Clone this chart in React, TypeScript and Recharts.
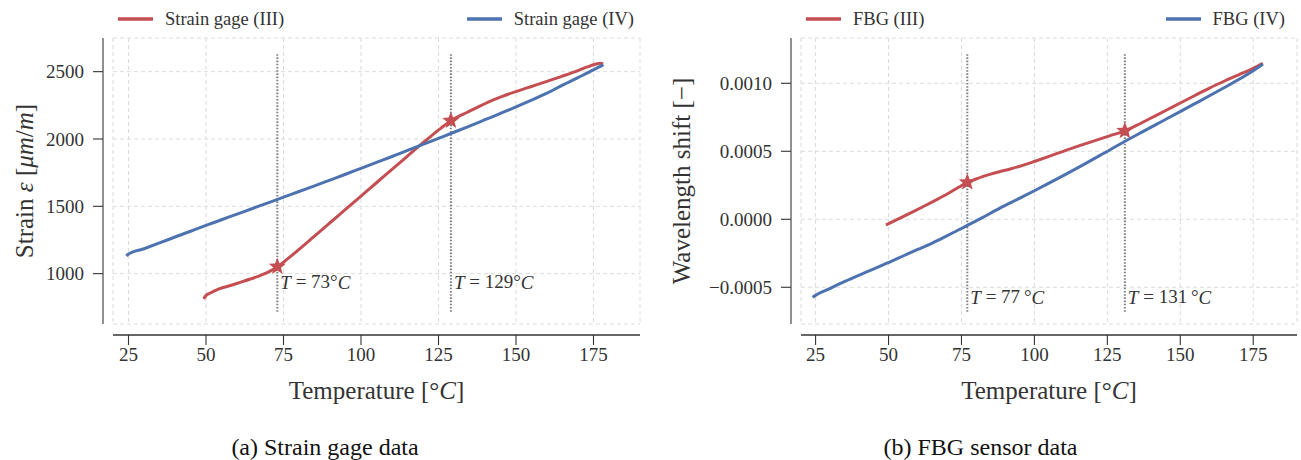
import React from 'react';
import {
  ComposedChart,
  Line,
  Scatter,
  XAxis,
  YAxis,
  CartesianGrid,
  ReferenceLine,
  ReferenceDot,
  Legend,
} from 'recharts';

const FONT = '"Liberation Serif", "Times New Roman", serif';
const RED = '#C44E52';
const BLUE = '#4C72B0';
const INK = '#333';

// shared temperature axis
const tempTicks = [25, 50, 75, 100, 125, 150, 175];
const tempDomain = [20, 190];

// (a) strain gage data
const sgIIITemp = [49.3, 49.8, 51.4, 54, 57.9, 61, 64.3, 67, 69.7, 73.1, 75, 77, 80, 85, 90, 95, 100, 105, 110, 115, 118.5, 122, 125.5, 129, 131.5, 134, 138, 142.7, 146, 150, 155, 160, 165, 170, 173, 175.5, 177.2, 178.1];
const sgIIIStrain = [812, 832, 856, 885, 912, 935, 960, 982, 1008, 1052, 1085, 1122, 1180, 1279, 1378, 1477, 1576, 1675, 1774, 1873, 1943, 2010, 2075, 2136, 2168, 2195, 2240, 2290, 2320, 2352, 2390, 2428, 2467, 2508, 2535, 2555, 2563, 2557];
const sgIVTemp = [24.3, 24.8, 30, 35, 40, 45, 50, 55, 60, 65, 70, 75, 80, 85, 90, 95, 100, 105, 110, 115, 120, 125, 130, 135, 140, 145, 150, 155, 160, 165, 170, 175, 178.2];
const sgIVStrain = [1132, 1142, 1185, 1228, 1272, 1315, 1358, 1400, 1442, 1484, 1526, 1568, 1610, 1652, 1695, 1738, 1782, 1826, 1870, 1915, 1960, 2005, 2050, 2096, 2143, 2190, 2238, 2288, 2340, 2400, 2456, 2513, 2552];
const sgYTicks = [1000, 1500, 2000, 2500];
const sgYDomain = [626, 2750];
const sgTransTemp = [73, 129];
const sgTransStrain = [1052, 2136];
const sgVlineSpan = [717, 2639];
const sgLabelStrain = 938;

// (b) FBG sensor data
const fbgIIITemp = [49.1, 52, 55, 59, 63, 67, 71, 74, 77, 79, 82, 85, 88, 92, 95, 100, 105, 111, 116, 121, 126, 131, 135, 140, 145, 149.8, 155, 160, 165, 170, 175, 178.3];
const fbgIIIShift = [-0.000042, -0.000012, 0.00002, 0.000062, 0.000105, 0.00015, 0.000197, 0.000235, 0.000272, 0.000288, 0.000312, 0.000332, 0.00035, 0.000372, 0.00039, 0.000425, 0.000462, 0.000509, 0.000545, 0.00058, 0.000615, 0.00065, 0.00069, 0.000745, 0.0008, 0.000853, 0.00091, 0.000965, 0.001015, 0.001062, 0.00111, 0.001147];
const fbgIVTemp = [24, 24.5, 30, 35, 40, 45, 50, 55, 60, 65, 70, 76.7, 82, 88, 95, 100, 105, 111, 117, 123, 130.9, 137, 143, 149.8, 155, 160, 165, 170, 175, 178.3];
const fbgIVShift = [-0.000574, -0.000566, -0.000508, -0.000457, -0.00041, -0.000365, -0.000318, -0.00027, -0.000222, -0.000175, -0.000122, -0.000048, 0.00001, 0.00008, 0.000155, 0.00021, 0.000266, 0.000334, 0.000404, 0.000476, 0.000572, 0.000643, 0.000712, 0.00079, 0.00085, 0.000908, 0.000967, 0.001028, 0.001093, 0.00114];
const fbgYTicks = [-0.0005, 0, 0.0005, 0.001];
const fbgYDomain = [-0.00077, 0.001333];
const fbgTransTemp = [77, 131];
const fbgTransShift = [0.000272, 0.00065];
const fbgVlineSpan = [-0.00068, 0.00122];
const fbgLabelShift = -0.000571;

type Pt = { t: number; v: number };
const toPts = (ts: number[], vs: number[]): Pt[] => ts.map((t, i) => ({ t, v: vs[i] }));

const Star = (props: any) => {
  const { cx, cy } = props;
  const pts: string[] = [];
  for (let i = 0; i < 10; i++) {
    const r = i % 2 === 0 ? 9 : 3.9;
    const a = -Math.PI / 2 + (i * Math.PI) / 5;
    pts.push(`${cx + r * Math.cos(a)},${cy + r * Math.sin(a)}`);
  }
  return <polygon points={pts.join(' ')} fill={RED} />;
};

const LegendRow = (props: any) => {
  const { payload, padL, padR, names } = props;
  const items = (payload || []).filter((it: any) => it.type !== 'none' && names.includes(it.value));
  return (
    <div
      style={{
        display: 'flex',
        justifyContent: 'space-between',
        paddingLeft: padL,
        paddingRight: padR,
        fontFamily: FONT,
        fontSize: 18.5,
        color: INK,
        lineHeight: '22px',
      }}
    >
      {items.map((p: any) => (
        <div key={p.value} style={{ display: 'flex', alignItems: 'center' }}>
          <svg width={35} height={4}>
            <line x1={0} y1={2} x2={35} y2={2} stroke={p.color} strokeWidth={3.5} />
          </svg>
          <span style={{ marginLeft: 12 }}>{p.value}</span>
        </div>
      ))}
    </div>
  );
};

interface Series {
  name: string;
  color: string;
  data: Pt[];
}

interface PanelProps {
  left: number;
  width: number;
  yAxisWidth: number;
  marginRight: number;
  yDomain: number[];
  yTicks: number[];
  yFormat?: (v: number) => string;
  yLabel: React.ReactNode;
  yLabelX: number;
  series: Series[];
  stars: Pt[];
  vlines: number[];
  vlineSpan: number[];
  labels: { t: number; v: number; text: React.ReactNode }[];
  legendPad: [number, number];
  caption: string;
  captionShift: number;
}

const Panel = (p: PanelProps) => {
  const plotLeft = p.yAxisWidth + 10;
  const plotWidth = p.width - plotLeft - p.marginRight;
  const names = p.series.map((s) => s.name);
  return (
    <div style={{ position: 'absolute', left: p.left, top: 0, width: p.width, height: 460 }}>
      <ComposedChart width={p.width} height={420} margin={{ top: 38, right: p.marginRight, left: 0, bottom: 5 }}>
        <XAxis xAxisId="gap" type="number" domain={[0, 1]} height={11} tick={false} tickLine={false} axisLine={false} />
        <XAxis
          xAxisId="main"
          dataKey="t"
          type="number"
          domain={tempDomain}
          ticks={tempTicks}
          height={80}
          tickSize={10}
          tickMargin={3}
          tick={{ fontSize: 19, fontFamily: FONT, fill: INK }}
          axisLine={{ stroke: INK, strokeWidth: 1.3 }}
          tickLine={{ stroke: INK, strokeWidth: 1.1 }}
          label={(lp: any) => {
            const vb = lp.viewBox;
            return (
              <text
                x={vb.x + vb.width / 2}
                y={vb.y + 55}
                textAnchor="middle"
                dominantBaseline="central"
                fontFamily={FONT}
                fontSize={25}
                fill={INK}
              >
                Temperature [°<tspan fontStyle="italic">C</tspan>]
              </text>
            );
          }}
        />
        <YAxis yAxisId="gap" type="number" domain={[0, 1]} width={10} tick={false} tickLine={false} axisLine={false} />
        <YAxis
          yAxisId="main"
          type="number"
          domain={p.yDomain}
          ticks={p.yTicks}
          width={p.yAxisWidth}
          tickSize={10}
          tickMargin={9}
          tickFormatter={p.yFormat}
          tick={{ fontSize: 19, fontFamily: FONT, fill: INK }}
          axisLine={{ stroke: '#555', strokeWidth: 1.3 }}
          tickLine={{ stroke: INK, strokeWidth: 1.1 }}
          label={(lp: any) => {
            const vb = lp.viewBox;
            const cx = vb.x + p.yLabelX;
            const cy = vb.y + vb.height / 2;
            return (
              <text
                x={cx}
                y={cy}
                transform={`rotate(-90 ${cx} ${cy})`}
                textAnchor="middle"
                dominantBaseline="central"
                fontFamily={FONT}
                fontSize={25}
                fill={INK}
              >
                {p.yLabel}
              </text>
            );
          }}
        />
        <CartesianGrid xAxisId="main" yAxisId="main" stroke="#dcdcdc" strokeDasharray="4 3" />
        {p.vlines.map((t) => (
          <ReferenceLine
            key={`vl-${t}`}
            xAxisId="main"
            yAxisId="main"
            segment={[
              { x: t, y: p.vlineSpan[0] },
              { x: t, y: p.vlineSpan[1] },
            ]}
            stroke="#808080"
            strokeWidth={2}
            strokeDasharray="1.6 1.6"
          />
        ))}
        {p.series.map((s) => (
          <Line
            key={s.name}
            xAxisId="main"
            yAxisId="main"
            data={s.data}
            dataKey="v"
            name={s.name}
            type="monotone"
            stroke={s.color}
            strokeWidth={3}
            dot={false}
            activeDot={false}
            isAnimationActive={false}
          />
        ))}
        <Scatter
          xAxisId="main"
          yAxisId="main"
          data={p.stars}
          dataKey="v"
          name="transition"
          shape={Star}
          legendType="none"
          isAnimationActive={false}
        />
        {p.labels.map((l) => (
          <ReferenceDot
            key={`lb-${l.t}`}
            xAxisId="main"
            yAxisId="main"
            x={l.t}
            y={l.v}
            r={0}
            shape={(sp: any) => (
              <text
                x={sp.cx + 3}
                y={sp.cy}
                dominantBaseline="central"
                fontFamily={FONT}
                fontSize={19}
                fill={INK}
              >
                {l.text}
              </text>
            )}
          />
        ))}
        <Legend
          layout="horizontal"
          verticalAlign="middle"
          align="center"
          wrapperStyle={{ top: 8, left: plotLeft, width: plotWidth, height: 22 }}
          content={(lp: any) => (
            <LegendRow payload={lp.payload} names={names} padL={p.legendPad[0]} padR={p.legendPad[1]} />
          )}
        />
      </ComposedChart>
      <div
        style={{
          position: 'absolute',
          top: 433,
          left: p.captionShift,
          width: p.width,
          textAlign: 'center',
          fontFamily: FONT,
          fontSize: 24,
          lineHeight: '28px',
          color: '#111',
        }}
      >
        {p.caption}
      </div>
    </div>
  );
};

const tLabel = (t: number, gap: string) => (
  <>
    <tspan fontStyle="italic">T</tspan>
    {` = ${t}${gap}°`}
    <tspan fontStyle="italic">C</tspan>
  </>
);

const fmtShift = (v: number) => {
  const s = Math.abs(v) < 1e-12 ? '0.0000' : v.toFixed(4);
  return s.replace('-', '\u2212');
};

export default function App() {
  return (
    <div style={{ position: 'absolute', left: 0, top: 0, width: 1301, height: 460, background: '#fff' }}>
      <Panel
        left={0}
        width={650}
        yAxisWidth={103}
        marginRight={10}
        yDomain={sgYDomain}
        yTicks={sgYTicks}
        yLabelX={24}
        yLabel={
          <>
            Strain <tspan fontStyle="italic">ε</tspan> [<tspan fontStyle="italic">μm</tspan>/<tspan fontStyle="italic">m</tspan>]
          </>
        }
        series={[
          { name: 'Strain gage (III)', color: RED, data: toPts(sgIIITemp, sgIIIStrain) },
          { name: 'Strain gage (IV)', color: BLUE, data: toPts(sgIVTemp, sgIVStrain) },
        ]}
        stars={toPts(sgTransTemp, sgTransStrain)}
        vlines={sgTransTemp}
        vlineSpan={sgVlineSpan}
        labels={sgTransTemp.map((t) => ({ t, v: sgLabelStrain, text: tLabel(t, '') }))}
        legendPad={[5, 6]}
        caption="(a) Strain gage data"
        captionShift={0}
      />
      <Panel
        left={650}
        width={651}
        yAxisWidth={141}
        marginRight={4}
        yDomain={fbgYDomain}
        yTicks={fbgYTicks}
        yFormat={fmtShift}
        yLabelX={31}
        yLabel={<>Wavelength shift [−]</>}
        series={[
          { name: 'FBG (III)', color: RED, data: toPts(fbgIIITemp, fbgIIIShift) },
          { name: 'FBG (IV)', color: BLUE, data: toPts(fbgIVTemp, fbgIVShift) },
        ]}
        stars={toPts(fbgTransTemp, fbgTransShift)}
        vlines={fbgTransTemp}
        vlineSpan={fbgVlineSpan}
        labels={fbgTransTemp.map((t) => ({ t, v: fbgLabelShift, text: tLabel(t, '\u2009') }))}
        legendPad={[5, 12]}
        caption="(b) FBG sensor data"
        captionShift={5}
      />
    </div>
  );
}
